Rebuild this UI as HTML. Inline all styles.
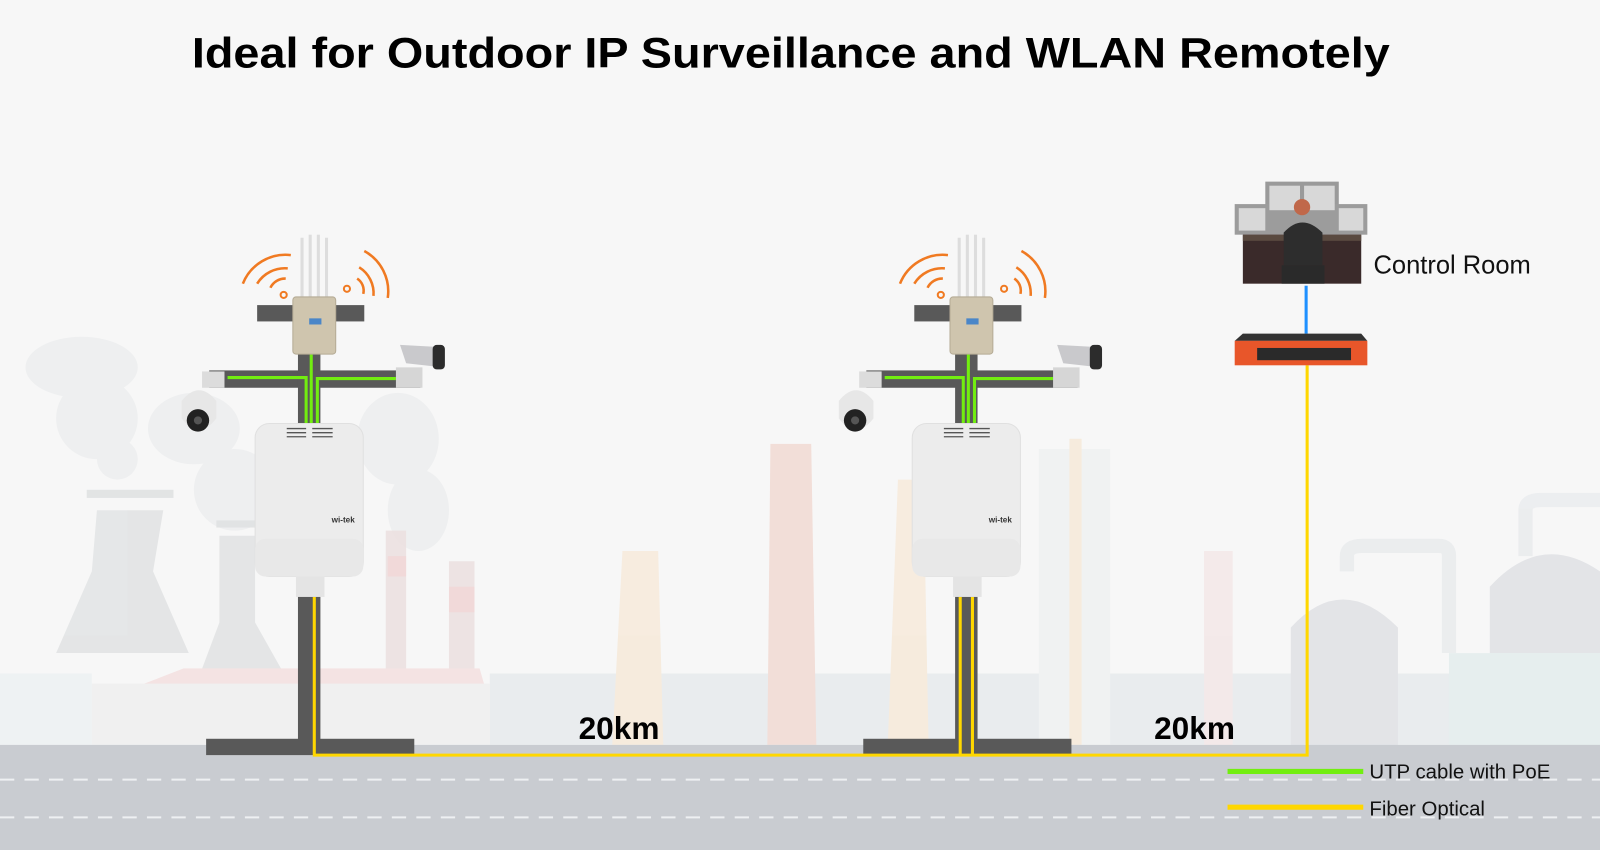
<!DOCTYPE html>
<html><head><meta charset="utf-8"><style>
html,body{margin:0;padding:0;width:1600px;height:850px;overflow:hidden;background:#f7f7f7}
svg{display:block}
</style></head><body>
<svg width="1600" height="850" viewBox="0 0 1568 833" xmlns="http://www.w3.org/2000/svg" font-family="Liberation Sans, sans-serif">
<rect width="1568" height="833" fill="#f7f7f7"/>
<!-- faint smoke -->
<g fill="#eeeff0">
<ellipse cx="80" cy="360" rx="55" ry="30"/><ellipse cx="95" cy="410" rx="40" ry="40"/><ellipse cx="115" cy="450" rx="20" ry="20"/>
<ellipse cx="190" cy="420" rx="45" ry="35"/><ellipse cx="230" cy="480" rx="40" ry="40"/>
<ellipse cx="390" cy="430" rx="40" ry="45"/><ellipse cx="410" cy="500" rx="30" ry="40"/>
</g>
<!-- faint factory -->
<g opacity="0.9">
<rect x="85" y="480" width="85" height="8" fill="#e0e2e3"/>
<path d="M95 500 L160 500 L150 560 L185 640 L55 640 L90 560Z" fill="#e2e4e5"/>
<rect x="212" y="510" width="40" height="7" fill="#e0e2e3"/>
<path d="M215 525 L250 525 L250 610 L295 690 L185 690 L215 610Z" fill="#e2e4e5"/>
<rect x="378" y="520" width="20" height="140" fill="#ece1e1"/>
<rect x="440" y="550" width="25" height="110" fill="#ece1e1"/>
<rect x="440" y="575" width="25" height="25" fill="#f1d6d6"/>
<rect x="380" y="545" width="18" height="20" fill="#f1d6d6"/>
<path d="M90 690 L180 655 L470 655 L480 690Z" fill="#f4e1e1"/>
<rect x="90" y="670" width="390" height="60" fill="#f0f0f0"/>
<rect x="0" y="660" width="90" height="70" fill="#eef2f3"/>
<rect x="480" y="660" width="1088" height="70" fill="#e8ebee"/>
<path d="M755 435 L795 435 L800 730 L752 730Z" fill="#f2dcd5"/>
<path d="M610 540 L645 540 L650 730 L600 730Z" fill="#f6eadb"/>
<path d="M880 470 L905 470 L910 730 L870 730Z" fill="#f6eadb"/>
<rect x="1018" y="440" width="70" height="290" fill="#f0f2f2"/>
<rect x="1048" y="430" width="12" height="300" fill="#f6eadb"/>
<rect x="1180" y="540" width="28" height="190" fill="#f3e8e8"/>
<path d="M1265 615 Q1315 560 1370 615 L1370 730 L1265 730Z" fill="#e1e2e6"/>
<path d="M1460 575 Q1510 520 1568 560 L1568 730 L1460 730Z" fill="#e1e2e6"/>
<rect x="1420" y="640" width="148" height="90" fill="#e5eeee"/>
<path d="M1495 545 L1495 500 Q1495 490 1510 490 L1568 490" stroke="#eaecee" stroke-width="14" fill="none"/>
<path d="M1320 560 L1320 545 Q1320 535 1335 535 L1410 535 Q1420 535 1420 545 L1420 640" stroke="#eaecee" stroke-width="14" fill="none"/>
</g>
<!-- road -->
<rect x="0" y="730" width="1568" height="103" fill="#c9ccd1"/>
<line x1="0" y1="764" x2="1568" y2="764" stroke="#eef0f2" stroke-width="2" stroke-dasharray="14 10"/>
<line x1="0" y1="801" x2="1568" y2="801" stroke="#eef0f2" stroke-width="2" stroke-dasharray="14 10"/>
<!-- title -->
<text x="188" y="66" textLength="1174" lengthAdjust="spacingAndGlyphs" font-size="42" font-weight="bold" fill="#000">Ideal for Outdoor IP Surveillance and WLAN Remotely</text>

<defs>
<g id="unit">
 <rect x="252" y="299" width="105" height="16" fill="#595959"/>
 <rect x="205" y="363" width="207" height="17" fill="#595959"/>
 <rect x="292" y="300" width="22" height="120" fill="#595959"/>
 <rect x="292" y="565" width="22" height="165" fill="#595959"/>
 <rect x="202" y="724" width="204" height="16" fill="#595959"/>
 <path d="M223 370 L300 370 L300 415" stroke="#72ee10" stroke-width="3" fill="none"/>
 <path d="M388 371 L311 371 L311 415" stroke="#72ee10" stroke-width="3" fill="none"/>
 <line x1="305" y1="345" x2="305" y2="415" stroke="#72ee10" stroke-width="3"/>
 <g stroke="#f07a22" stroke-width="2.5" fill="none">
  <path d="M238 278 A45 45 0 0 1 285 250"/>
  <path d="M252 278 A32 32 0 0 1 282 263"/>
  <path d="M265 282 A16 16 0 0 1 280 273"/>
  <path d="M357 246 A45 45 0 0 1 380 292"/>
  <path d="M352 262 A30 30 0 0 1 366 290"/>
  <path d="M350 273 A14 14 0 0 1 356 288"/>
 </g>
 <circle cx="278" cy="289" r="3" stroke="#f07a22" stroke-width="2" fill="none"/>
 <circle cx="340" cy="283" r="3" stroke="#f07a22" stroke-width="2" fill="none"/>
 <g stroke="#ddd" stroke-width="3"><line x1="296" y1="233" x2="296" y2="292"/><line x1="304" y1="230" x2="304" y2="292"/><line x1="312" y1="230" x2="312" y2="292"/><line x1="320" y1="233" x2="320" y2="292"/></g>
 <rect x="287" y="291" width="42" height="56" rx="3" fill="#cfc5ae" stroke="#b5ab95"/>
 <rect x="303" y="312" width="12" height="6" fill="#4a86c8"/>
 <rect x="250" y="415" width="106" height="150" rx="14" fill="#ececec" stroke="#e0e0e0"/>
 <rect x="250" y="528" width="106" height="37" rx="10" fill="#e8e8e8"/>
 <g stroke="#555" stroke-width="1.3"><line x1="281" y1="420" x2="300" y2="420"/><line x1="281" y1="424" x2="300" y2="424"/><line x1="281" y1="428" x2="300" y2="428"/><line x1="306" y1="420" x2="326" y2="420"/><line x1="306" y1="424" x2="326" y2="424"/><line x1="306" y1="428" x2="326" y2="428"/></g>
 <text x="325" y="512" font-size="8" font-weight="bold" fill="#333">wi-tek</text>
 <rect x="290" y="565" width="28" height="20" fill="#e4e4e4"/>
 <rect x="198" y="364" width="22" height="16" fill="#dcdcdc"/>
 <path d="M178 393 Q195 372 212 393 L212 410 Q195 432 178 410Z" fill="#e7e7e7"/>
 <circle cx="194" cy="412" r="11" fill="#222"/><circle cx="194" cy="412" r="4" fill="#555"/>
 <rect x="388" y="360" width="26" height="20" fill="#d6d6d6"/>
 <path d="M392 338 L430 340 L434 360 L398 356Z" fill="#c9c9cc"/>
 <rect x="424" y="338" width="12" height="24" rx="4" fill="#2c2c2c"/>
</g>
</defs>
<use href="#unit"/>
<use href="#unit" transform="translate(644,0)"/>
<g stroke="#ffd700" stroke-width="3" fill="none">
 <path d="M308 585 L308 740 L1281 740 L1281 358"/>
 <line x1="941" y1="585" x2="941" y2="740"/>
 <line x1="953" y1="585" x2="953" y2="740"/>
</g>
<rect x="1240" y="178" width="72" height="32" fill="#9a9a9a"/>
<rect x="1210" y="200" width="130" height="30" fill="#9c9c9c"/>
<rect x="1214" y="204" width="26" height="22" fill="#d8d8d8"/><rect x="1312" y="204" width="24" height="22" fill="#d8d8d8"/>
<rect x="1244" y="182" width="30" height="24" fill="#d8d8d8"/><rect x="1278" y="182" width="30" height="24" fill="#d8d8d8"/>
<rect x="1218" y="230" width="116" height="48" fill="#3a2a2a"/>
<rect x="1218" y="230" width="116" height="6" fill="#5a4a40"/>
<circle cx="1276" cy="203" r="8" fill="#c0684a"/>
<path d="M1258 228 Q1276 208 1296 228 L1296 260 L1258 260Z" fill="#2d2d2d"/>
<rect x="1256" y="260" width="42" height="18" fill="#2a2a2a"/>
<text x="1346" y="268" font-size="25" fill="#111">Control Room</text>
<line x1="1280" y1="280" x2="1280" y2="327" stroke="#1e90ff" stroke-width="3"/>
<path d="M1218 327 L1334 327 L1340 334 L1210 334Z" fill="#333"/>
<rect x="1210" y="334" width="130" height="24" fill="#e8562a"/>
<rect x="1232" y="341" width="92" height="12" fill="#2a2a2a"/>
<text x="567" y="724" font-size="31" font-weight="bold" fill="#000">20km</text>
<text x="1131" y="724" font-size="31" font-weight="bold" fill="#000">20km</text>
<line x1="1203" y1="756" x2="1336" y2="756" stroke="#72ee10" stroke-width="5"/>
<line x1="1203" y1="791" x2="1336" y2="791" stroke="#ffd700" stroke-width="5"/>
<text x="1342" y="763" font-size="20" fill="#111">UTP cable with PoE</text>
<text x="1342" y="799" font-size="20" fill="#111">Fiber Optical</text>
</svg>
</body></html>
